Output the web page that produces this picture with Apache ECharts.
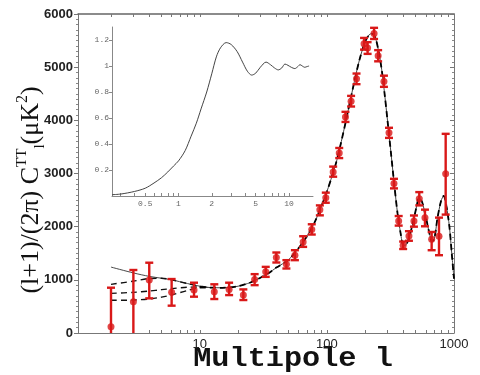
<!DOCTYPE html>
<html><head><meta charset="utf-8">
<script src="https://cdn.jsdelivr.net/npm/echarts@6/dist/echarts.min.js"></script>
<style>html,body{margin:0;padding:0;background:#fff}#c{width:480px;height:375px}</style>
</head><body><div id="c"></div>
<script>
// measured band powers
const multipoles = [2,3,4,6,9,13,17,22,27,33,40,48,56,65,76,88,98,112,125,140,155,171,196,209,235,253,281,308,337,367,398,442,484,533,591,667,762,860];
const power = [118,589,997,765,808,777,820,713,1007,1150,1420,1294,1463,1713,1946,2316,2545,3030,3385,4065,4360,4780,5440,5360,5635,5215,4730,3765,2810,2107,1650,1825,2107,2527,2170,1763,1820,2996];
const errLow = [0,0,652,514,683,639,713,620,900,1056,1326,1213,1370,1620,1852,2213,2450,2940,3290,3970,4260,4680,5330,5250,5530,5110,4630,3670,2720,2020,1580,1735,2000,2400,2007,1557,1463,2227];
const errHigh = [852,1185,1322,1015,946,916,946,820,1107,1244,1514,1370,1557,1820,2045,2400,2640,3130,3480,4160,4460,4880,5550,5470,5740,5320,4840,3860,2900,2200,1720,1915,2210,2650,2320,1900,2170,3746];

// theory curve
const curveL = [10,12,15,20,25,30,35,40,50,60,70,80,90,100,110,120,140,160,180,200,215,225,240,255,270,285,300,320,340,360,380,400,420,450,480,510,530,560,600,640,670,700,740,790,830,870,920,960,1000];
const curveD = [865,855,850,880,950,1040,1130,1230,1380,1600,1830,2080,2370,2660,2960,3260,3950,4600,5130,5480,5610,5630,5560,5300,4950,4480,3990,3360,2760,2240,1880,1650,1660,1850,2120,2400,2540,2470,2180,1880,1720,1770,2150,2480,2580,2400,2000,1500,1020];

// low-l model variants
const lowL = [2,3,4,5,6,8,10,12];
const lowTop = [915,975,1025,1030,1000,930,880,855];
const lowMid = [745,765,790,815,835,860,865,855];
const lowBot = [615,620,640,675,715,800,850,855];
const lowSolid = [1240,1130,1065,1030,1000,930,880,855];

// inset curve
const insetX = [0.25,0.3,0.4,0.5,0.6,0.7,0.8,0.9,1.0,1.15,1.3,1.45,1.6,1.8,2.0,2.2,2.4,2.7,3.0,3.4,3.8,4.2,4.6,5.0,5.5,6.2,6.8,7.4,8.0,8.6,9.2,9.8,10.5,11.3,12.0,12.6,13.2,13.9,14.5,15.2];
const insetY = [0.01,0.015,0.035,0.06,0.1,0.14,0.185,0.23,0.27,0.35,0.46,0.56,0.67,0.8,0.94,1.07,1.14,1.18,1.165,1.11,1.03,0.96,0.93,0.945,0.99,1.03,1.01,0.985,0.97,0.985,1.015,1.005,0.99,0.98,0.995,1.01,1.0,0.99,0.995,1.0];

// ticks & labels
const mainTickValues = [2,3,4,5,6,7,8,9,10,20,30,40,50,60,70,80,90,100,200,300,400,500,600,700,800,900,1000];
const mainLabelValues = [10,100,1000];
const insetTickValues = [0.3,0.4,0.5,0.6,0.7,0.8,0.9,1,2,3,4,5,6,7,8,9,10];
const insetLabelValues = [0.5,1,2,5,10];
const insetYLabelValues = [0.2,0.4,0.6,0.8,1,1.2];

const RED = '#d91818';
const AX = '#777';
const zip = (a, b) => a.map((v, i) => [v, b[i]]);

const chart = echarts.init(document.getElementById('c'), null, {renderer: 'canvas'});
const fmt = v => String(v);

const option = {
  animation: false,
  backgroundColor: '#fff',
  grid: [
    {left: 78, top: 14, right: 26, bottom: 42},
    {left: 112, top: 27, width: 201, height: 169}
  ],
  xAxis: [
    {type: 'log', logBase: 10, min: 1.1, max: 1000, gridIndex: 0, position: 'bottom',
     axisLine: {show: true, onZero: false, lineStyle: {color: AX}},
     axisTick: {show: true, inside: true, length: 3, customValues: mainTickValues, lineStyle: {color: AX}},
     axisLabel: {customValues: mainLabelValues, formatter: fmt, fontFamily: 'Liberation Sans', fontSize: 13, color: '#222', margin: 5},
     splitLine: {show: false}},
    {type: 'log', logBase: 10, min: 1.1, max: 1000, gridIndex: 0, position: 'top',
     axisLine: {show: true, onZero: false, lineStyle: {color: '#666', width: 1.5}},
     axisTick: {show: true, inside: true, length: 3, customValues: mainTickValues, lineStyle: {color: AX}},
     axisLabel: {show: false}, splitLine: {show: false}},
    {type: 'log', logBase: 10, min: 0.25, max: 16.5, gridIndex: 1,
     axisLine: {show: true, onZero: false, lineStyle: {color: '#888'}},
     axisTick: {show: true, inside: true, length: 3, customValues: insetTickValues, lineStyle: {color: '#888'}},
     axisLabel: {customValues: insetLabelValues, formatter: fmt, fontFamily: 'Liberation Mono', fontSize: 8, color: '#666', margin: 4},
     splitLine: {show: false}}
  ],
  yAxis: [
    {type: 'value', min: 0, max: 6000, interval: 1000, gridIndex: 0, position: 'left',
     axisLine: {show: true, lineStyle: {color: AX}},
     axisTick: {show: true, length: 4, lineStyle: {color: AX}},
     minorTick: {show: true, splitNumber: 10, length: 2, lineStyle: {color: '#888'}},
     axisLabel: {formatter: fmt, fontFamily: 'Liberation Sans', fontWeight: 'bold', fontSize: 13, color: '#222', margin: 5},
     splitLine: {show: false}},
    {type: 'value', min: 0, max: 6000, interval: 1000, gridIndex: 0, position: 'right',
     axisLine: {show: true, lineStyle: {color: AX}},
     axisTick: {show: true, inside: true, length: 4, lineStyle: {color: AX}},
     minorTick: {show: true, splitNumber: 10, length: 2, lineStyle: {color: '#888'}},
     axisLabel: {show: false}, splitLine: {show: false}},
    {type: 'value', min: 0, max: 1.3, gridIndex: 1,
     axisLine: {show: true, lineStyle: {color: '#888'}},
     axisTick: {show: true, length: 3, customValues: insetYLabelValues, lineStyle: {color: '#888'}},
     axisLabel: {customValues: insetYLabelValues, formatter: fmt, fontFamily: 'Liberation Mono', fontSize: 8, color: '#666', margin: 3},
     splitLine: {show: false}}
  ],
  series: [
    {type: 'line', xAxisIndex: 0, yAxisIndex: 0, data: zip(lowL, lowSolid), showSymbol: false, smooth: 0.3,
     lineStyle: {color: '#333', width: 0.9}},
    {type: 'line', xAxisIndex: 0, yAxisIndex: 0, data: zip(lowL, lowTop), showSymbol: false, smooth: 0.3,
     lineStyle: {color: '#111', width: 1.4, type: [6, 4]}},
    {type: 'line', xAxisIndex: 0, yAxisIndex: 0, data: zip(lowL, lowMid), showSymbol: false, smooth: 0.3,
     lineStyle: {color: '#111', width: 1.4, type: [6, 4]}},
    {type: 'line', xAxisIndex: 0, yAxisIndex: 0, data: zip(lowL, lowBot), showSymbol: false, smooth: 0.3,
     lineStyle: {color: '#111', width: 1.4, type: [6, 4]}},
    {type: 'line', xAxisIndex: 0, yAxisIndex: 0, data: zip(curveL, curveD), showSymbol: false, smooth: 0.3,
     lineStyle: {color: '#444', width: 1}},
    {type: 'line', xAxisIndex: 0, yAxisIndex: 0, data: zip(curveL, curveD), showSymbol: false, smooth: 0.3,
     lineStyle: {color: '#000', width: 1.8, type: [6, 4]}},
    {type: 'custom', xAxisIndex: 0, yAxisIndex: 0, z: 5,
     data: multipoles.map((l, i) => [l, errLow[i], errHigh[i]]),
     encode: {x: 0, y: [1, 2]},
     renderItem: function (params, api) {
       const l = api.value(0), lo = api.value(1), hi = api.value(2);
       const pLo = api.coord([l, lo]), pHi = api.coord([l, hi]);
       const w = 4;
       const st = {stroke: RED, lineWidth: 2.4};
       const children = [
         {type: 'line', shape: {x1: pLo[0], y1: pLo[1], x2: pHi[0], y2: pHi[1]}, style: st},
         {type: 'line', shape: {x1: pHi[0] - w, y1: pHi[1], x2: pHi[0] + w, y2: pHi[1]}, style: {stroke: RED, lineWidth: 2.4}}
       ];
       if (lo > 0) children.push({type: 'line', shape: {x1: pLo[0] - w, y1: pLo[1], x2: pLo[0] + w, y2: pLo[1]}, style: {stroke: RED, lineWidth: 2.4}});
       return {type: 'group', children: children};
     }},
    {type: 'scatter', xAxisIndex: 0, yAxisIndex: 0, z: 6, data: zip(multipoles, power),
     symbol: 'circle', symbolSize: 7, itemStyle: {color: RED}},
    {type: 'line', xAxisIndex: 2, yAxisIndex: 2, data: zip(insetX, insetY), showSymbol: false, smooth: 0.3,
     lineStyle: {color: '#444', width: 1}}
  ],
  graphic: [
    {type: 'text', rotation: Math.PI / 2, x: 31, y: 190,
     style: {
       text: '{m|(l+1)/(2π) C}{sup|TT}{sub|l}{m|(μK}{sup2|2}{m|)}',
       align: 'center', verticalAlign: 'middle', fill: '#111',
       rich: {
         m: {fontFamily: 'Liberation Serif', fontSize: 26, lineHeight: 33, fill: '#111', color: '#111'},
         sup: {fontFamily: 'Liberation Serif', fontSize: 15, verticalAlign: 'top', fill: '#111', color: '#111'},
         sub: {fontFamily: 'Liberation Serif', fontSize: 15, verticalAlign: 'bottom', fill: '#111', color: '#111'},
         sup2: {fontFamily: 'Liberation Serif', fontSize: 16, verticalAlign: 'top', fill: '#111', color: '#111'}
       }
     }},
    {type: 'text', x: 293, y: 359, scaleX: 1.12,
     style: {text: 'Multipole l', font: 'bold 27px "Liberation Mono"', align: 'center', verticalAlign: 'middle', fill: '#111'}}
  ]
};
chart.setOption(option);
</script>
</body></html>
